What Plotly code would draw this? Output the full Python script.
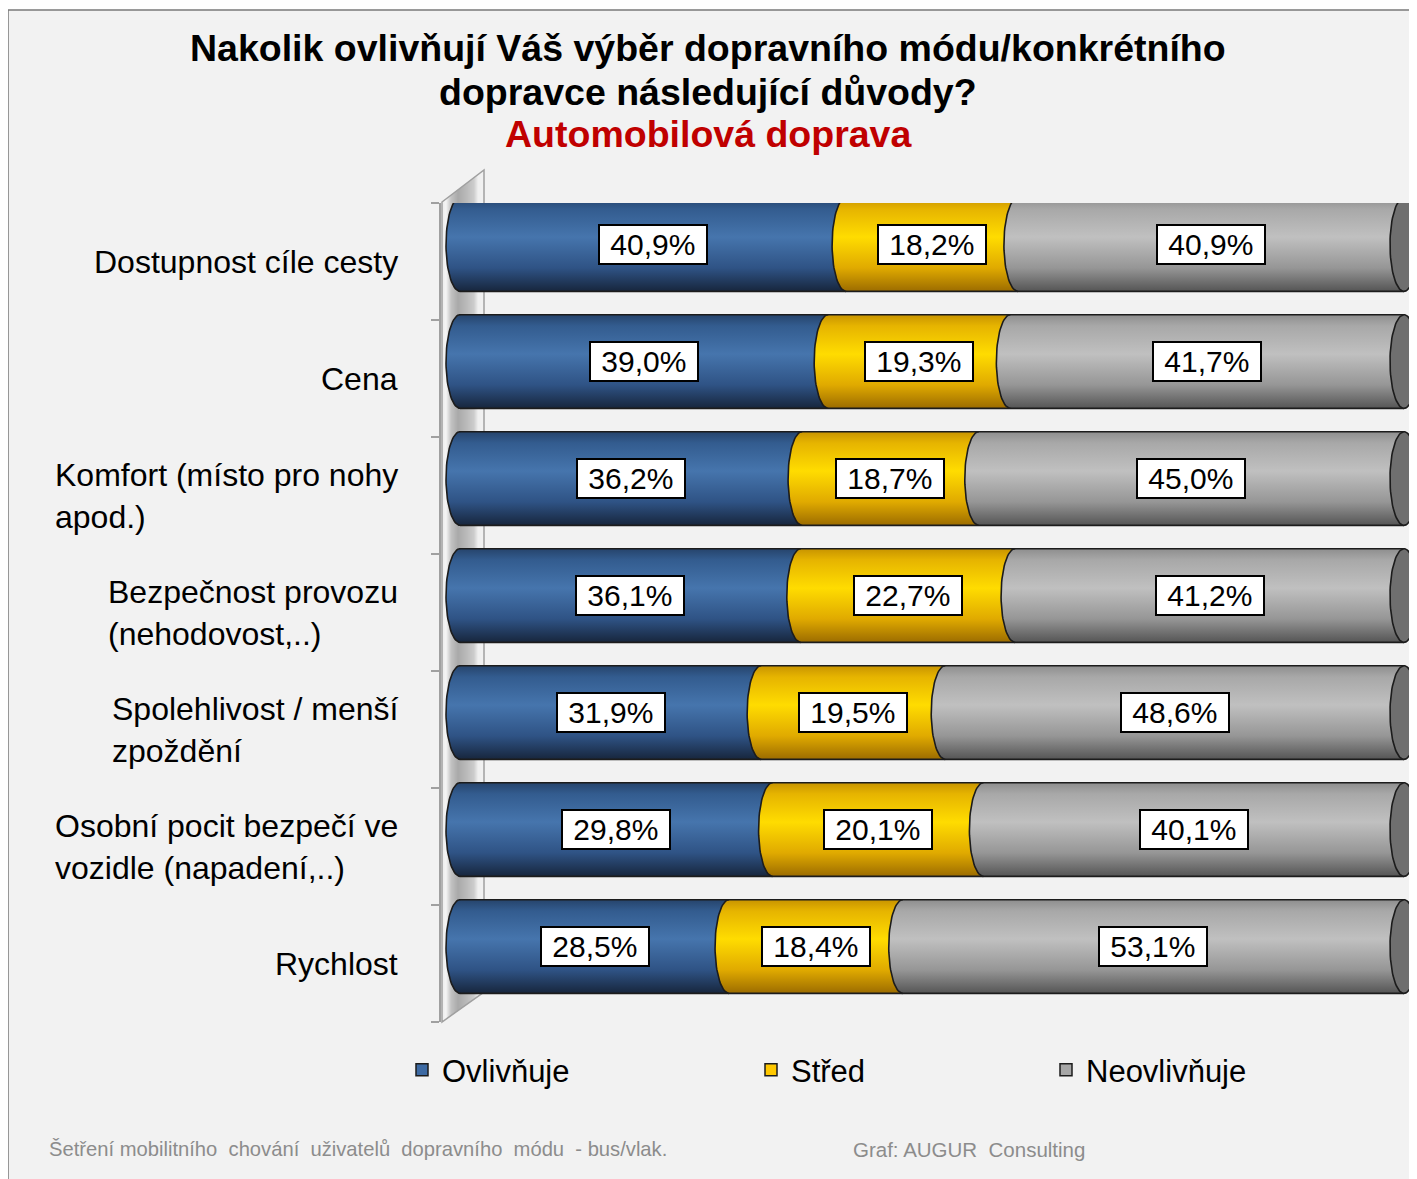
import numpy as np
import plotly.graph_objects as go

# ---------------- data ----------------
categories = [
    "Dostupnost cíle cesty",
    "Cena",
    "Komfort (místo pro nohy<br>apod.)",
    "Bezpečnost provozu<br>(nehodovost,..)",
    "Spolehlivost / menší<br>zpoždění",
    "Osobní pocit bezpečí ve<br>vozidle (napadení,..)",
    "Rychlost",
]
ovlivnuje = [40.9, 39.0, 36.2, 36.1, 31.9, 29.8, 28.5]
stred = [18.2, 19.3, 18.7, 22.7, 19.5, 20.1, 18.4]
neovlivnuje = [40.9, 41.7, 45.0, 41.2, 48.6, 40.1, 53.1]
series_names = ["Ovlivňuje", "Střed", "Neovlivňuje"]

title_lines = ["Nakolik ovlivňují Váš výběr dopravního módu/konkrétního",
               "dopravce následující důvody?"]
subtitle = "Automobilová doprava"
footer_left = "Šetření mobilitního  chování  uživatelů  dopravního  módu  - bus/vlak."
footer_right = "Graf: AUGUR  Consulting"

# ---------------- styling ----------------
FONT = "Liberation Sans, Arial, sans-serif"
flat_colors = ["#3d6aa3", "#ffc800", "#a6a6a6"]
grad_colors = [
    [[0, "#26446c"], [0.12, "#335c8f"], [0.42, "#4675ad"], [0.75, "#2f5385"], [1, "#17263d"]],
    [[0, "#c89400"], [0.12, "#e6b400"], [0.42, "#ffdc00"], [0.75, "#e0aa00"], [1, "#9c6c00"]],
    [[0, "#8e8e8e"], [0.12, "#a8a8a8"], [0.42, "#c0c0c0"], [0.75, "#969696"], [1, "#555555"]],
]
cap_color = "#6f6f6f"
edge_color = "#1c1c1c"

# page body has an 8px margin -> work in reference pixels, shift by OFF
OFF = 8
W, H = 1417 - OFF, 1179 - OFF
L, R, T, B = 441 - OFF, 1417 - OFF, 203 - OFF, 1022 - OFF
PW, PH = R - L, B - T
x0_px, x100_px = 460 - OFF, 1404 - OFF
sc = (x100_px - x0_px) / 100.0
xrange = [-(x0_px - L) / sc, 100 + (R - x100_px) / sc]
n = len(categories)
ypos = list(range(n))
bar_w = 0.8
shift = 0.145          # 3D offset of the bars (towards the top)
ry = bar_w / 2
rx = 14 / sc


def px_x(ref_px):
    return (ref_px - OFF - L) / PW


def px_y(ref_py):
    return (B - (ref_py - OFF)) / PH


vals = np.array([ovlivnuje, stred, neovlivnuje], dtype=float)
norm = vals / vals.sum(axis=0) * 100
cum = np.vstack([np.zeros(n), np.cumsum(norm, axis=0)])

fig = go.Figure()

# actual stacked bars (100 % stacked)
legend_ids = ["legend", "legend2", "legend3"]
for k, (name, v) in enumerate(zip(series_names, [ovlivnuje, stred, neovlivnuje])):
    fig.add_trace(go.Bar(
        y=ypos, x=v, name=name, orientation="h",
        width=bar_w, offset=-bar_w / 2 - shift,
        marker=dict(color=flat_colors[k], line=dict(color=edge_color, width=1.5)),
        legend=legend_ids[k], hoverinfo="skip",
    ))

# cylinder look derived from the bars
t_half = np.linspace(-np.pi / 2, np.pi / 2, 40)
t_full = np.linspace(0, 2 * np.pi, 80)
for i in range(n):
    yc = ypos[i] - shift
    for k in range(3):
        a, b = cum[k, i], cum[k + 1, i]
        xs = list(a - rx * np.cos(t_half)) + [b, b]
        ys = list(yc + ry * np.sin(t_half)) + [yc + ry, yc - ry]
        xs.append(xs[0]); ys.append(ys[0])
        fig.add_trace(go.Scatter(
            x=xs, y=ys, mode="lines", fill="toself",
            line=dict(width=0, color=flat_colors[k]),
            fillgradient=dict(type="vertical", colorscale=grad_colors[k],
                              start=yc - ry, stop=yc + ry),
            showlegend=False, hoverinfo="skip"))

# outlines
ox, oy = [], []
for i in range(n):
    yc = ypos[i] - shift
    ox += [cum[0, i], cum[3, i], None, cum[0, i], cum[3, i], None]
    oy += [yc - ry, yc - ry, None, yc + ry, yc + ry, None]
    for k in range(3):
        ox += list(cum[k, i] - rx * np.cos(t_half)) + [None]
        oy += list(yc + ry * np.sin(t_half)) + [None]
fig.add_trace(go.Scatter(x=ox, y=oy, mode="lines",
                         line=dict(color=edge_color, width=1.6),
                         showlegend=False, hoverinfo="skip"))

# end caps
for i in range(n):
    yc = ypos[i] - shift
    fig.add_trace(go.Scatter(
        x=cum[3, i] + rx * np.cos(t_full), y=yc + ry * np.sin(t_full),
        mode="lines", fill="toself", fillcolor=cap_color,
        line=dict(color=edge_color, width=1.6),
        showlegend=False, hoverinfo="skip"))

annotations = []
# value labels
for i in range(n):
    yc = ypos[i] - shift
    for k in range(3):
        mid = (cum[k, i] + cum[k + 1, i]) / 2
        txt = "\u00a0" + f"{vals[k, i]:.1f}".replace(".", ",") + "%\u00a0"
        annotations.append(dict(
            x=mid, y=yc, xref="x", yref="y", text=txt, showarrow=False,
            xanchor="center", yanchor="middle",
            font=dict(family=FONT, size=30, color="black"),
            bgcolor="white", bordercolor="black", borderwidth=2, borderpad=2))

# category labels
for i, c in enumerate(categories):
    annotations.append(dict(
        x=px_x(400), y=ypos[i], xref="paper", yref="y", text=c,
        showarrow=False, xanchor="right", yanchor="middle", align="left",
        font=dict(family=FONT, size=32, color="black")))

# titles
for line, py in zip(title_lines, [48, 92]):
    annotations.append(dict(
        x=px_x(708), y=px_y(py), xref="paper", yref="paper", text=f"<b>{line}</b>",
        showarrow=False, xanchor="center", yanchor="middle",
        font=dict(family=FONT, size=37.5, color="black")))
annotations.append(dict(
    x=px_x(708), y=px_y(134), xref="paper", yref="paper", text=f"<b>{subtitle}</b>",
    showarrow=False, xanchor="center", yanchor="middle",
    font=dict(family=FONT, size=37.5, color="#c00000")))

# footer
annotations.append(dict(
    x=px_x(47), y=px_y(1149), xref="paper", yref="paper", text=footer_left,
    showarrow=False, xanchor="left", yanchor="middle",
    font=dict(family=FONT, size=20.2, color="#8c8c8c")))
annotations.append(dict(
    x=px_x(851), y=px_y(1149), xref="paper", yref="paper", text=footer_right,
    showarrow=False, xanchor="left", yanchor="middle",
    font=dict(family=FONT, size=20.5, color="#8c8c8c")))

shapes = [
    # chart frame
    dict(type="rect", xref="paper", yref="paper",
         x0=px_x(8), x1=px_x(1440), y0=px_y(10), y1=px_y(1200),
         fillcolor="#f2f2f2", line=dict(color="#7a7a7a", width=1.5), layer="below"),
]

# 3D side wall with a horizontal shading (decoration)
wall_l, wall_r = 442, 484
wall_top_l, wall_top_r, wall_bot_l, wall_bot_r = 202, 170, 1022, 992
stops_x = [442, 446, 451, 458, 466, 474, 478, 484]
stops_g = [235, 246, 195, 170, 185, 205, 240, 242]
for xa in range(wall_l, wall_r):
    xb = xa + 1
    g = int(np.interp(xa + 0.5, stops_x, stops_g))

    def ytop(x):
        return wall_top_l + (wall_top_r - wall_top_l) * (x - wall_l) / (wall_r - wall_l)

    def ybot(x):
        return wall_bot_l + (wall_bot_r - wall_bot_l) * (x - wall_l) / (wall_r - wall_l)

    shapes.append(dict(
        type="path", xref="paper", yref="paper", layer="below",
        path=(f"M {px_x(xa)},{px_y(ytop(xa))} L {px_x(xb + 0.4)},{px_y(ytop(xb + 0.4))} "
              f"L {px_x(xb + 0.4)},{px_y(ybot(xb + 0.4))} L {px_x(xa)},{px_y(ybot(xa))} Z"),
        fillcolor=f"rgb({g},{g},{g})", line=dict(width=0)))
shapes.append(dict(
    type="path", xref="paper", yref="paper", layer="below",
    path=(f"M {px_x(wall_l)},{px_y(wall_top_l)} L {px_x(wall_r)},{px_y(wall_top_r)} "
          f"L {px_x(wall_r)},{px_y(wall_bot_r)} L {px_x(wall_l)},{px_y(wall_bot_l)} Z"),
    fillcolor="rgba(0,0,0,0)", line=dict(color="#a0a0a0", width=1.5)))

legend_style = dict(orientation="h", xanchor="left", yanchor="middle",
                    font=dict(family=FONT, size=31, color="black"),
                    bgcolor="rgba(0,0,0,0)")
fig.update_layout(
    width=W, height=H,
    margin=dict(l=L, r=W - R, t=T, b=H - B),
    paper_bgcolor="white", plot_bgcolor="rgba(0,0,0,0)",
    barmode="stack", barnorm="percent",
    font=dict(family=FONT, color="black"),
    showlegend=True,
    legend=dict(x=px_x(402), y=px_y(1070), **legend_style),
    legend2=dict(x=px_x(751), y=px_y(1070), **legend_style),
    legend3=dict(x=px_x(1046), y=px_y(1070), **legend_style),
    xaxis=dict(range=xrange, visible=False, fixedrange=True),
    yaxis=dict(range=[n - 0.5, -0.5], tickvals=[v - 0.5 for v in range(n + 1)],
               ticktext=[""] * (n + 1), ticks="outside", ticklen=8, tickcolor="#a0a0a0",
               tickwidth=1.5, showline=True, linecolor="#a0a0a0", linewidth=1.5,
               showgrid=False, zeroline=False, fixedrange=True),
    annotations=annotations, shapes=shapes,
)

fig.write_html("out.html")
